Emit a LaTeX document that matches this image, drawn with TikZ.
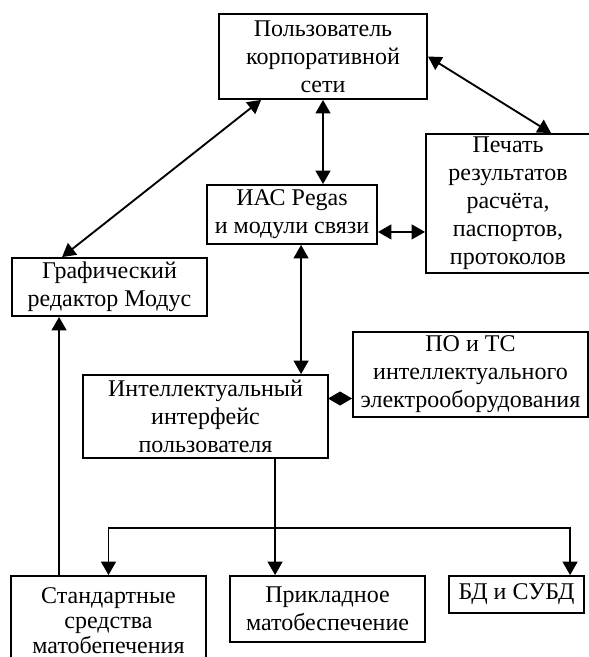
\documentclass[tikz,border=0pt]{standalone}
\usepackage{fontspec}
\setmainfont{Liberation Serif}
\usetikzlibrary{arrows.meta,calc}

\tikzset{
	blok/.style={draw, line width=1.4pt, align=center, inner sep=1pt, font=\fontsize{18}{21}\selectfont},
	svyaz/.style={line width=1.4pt, {Triangle[length=10pt,width=11pt]}-{Triangle[length=10pt,width=11pt]}},
	strelka/.style={line width=1.4pt, -{Triangle[length=10pt,width=11pt]}},
	romb/.style={line width=1.4pt, -{Diamond[length=18pt,width=10.5pt]}}
}

\begin{document}
\begin{tikzpicture}[x=0.75pt,y=-0.75pt]
	\useasboundingbox (0,0) rectangle (589,657);
	\clip (0,0) rectangle (589,657);

	% Блоки
	\node [blok, minimum width=156pt, minimum height=63.75pt] (user) at (323,56.5) {Пользователь\\корпоративной\\сети};
	\node [blok, minimum width=127.5pt, minimum height=44.25pt] (ias) at (292,214.5) {ИАС Pegas\\и модули связи};
	\node [blok, minimum width=123pt, minimum height=104.25pt] (print) at (508,203.5) {Печать\\результатов\\расчёта,\\паспортов,\\протоколов};
	\node [blok, minimum width=146.25pt, minimum height=43.5pt] (graph) at (109.5,287) {Графический\\редактор Модус};
	\node [blok, minimum width=183.75pt, minimum height=62.25pt] (intel) at (205.5,416.5) {Интеллектуальный\\интерфейс\\пользователя};
	\node [blok, minimum width=176.25pt, minimum height=63.75pt] (po) at (470.5,374.5) {ПО и ТС\\интеллектуального\\электрооборудования};
	\node [blok, font=\fontsize{18}{18.5}\selectfont, minimum width=146.25pt, minimum height=66.75pt] (std) at (108.5,620.5) {Стандартные\\средства\\матобепечения};
	\node [blok, minimum width=146.25pt, minimum height=49.5pt] (prik) at (327.5,609) {Прикладное\\матобеспечение};
	\node [blok, minimum width=101.25pt, minimum height=27.75pt] (bd) at (516.5,594.5) {БД и СУБД};

	% Связи
	\draw [svyaz] ($(user.south west)+(43,0)$) -- ($(graph.north west)+(51,0)$);
	\draw [svyaz] (user.south) -- (user.south |- ias.north);
	\draw [svyaz] (user.east) -- ($(print.north west)+(126,0)$);

	\coordinate (iasr) at ($(ias.south east)+(0,-13)$);
	\draw [svyaz] (iasr) -- (iasr -| print.west);
	\coordinate (iasn) at ($(ias.south west)+(95,0)$);
	\draw [svyaz] (iasn) -- (iasn |- intel.north);

	\coordinate (inte) at ($(intel.east)+(0,-18)$);
	\draw [romb] (inte) -- (inte -| po.west);

	% Разветвление вниз
	\coordinate (intb) at ($(intel.south west)+(193,0)$);
	\coordinate (razv) at ($(intb)+(0,69)$);
	\draw [line width=1.4pt] (intb) -- (razv);
	\draw [strelka] (razv) -| (std.north);
	\draw [strelka] (razv) -- (razv |- prik.north);
	\draw [strelka] (razv) -| ($(bd.north west)+(122,0)$);

	\coordinate (stdn) at ($(std.north west)+(49,0)$);
	\draw [strelka] (stdn) -- (stdn |- graph.south);
\end{tikzpicture}
\end{document}
